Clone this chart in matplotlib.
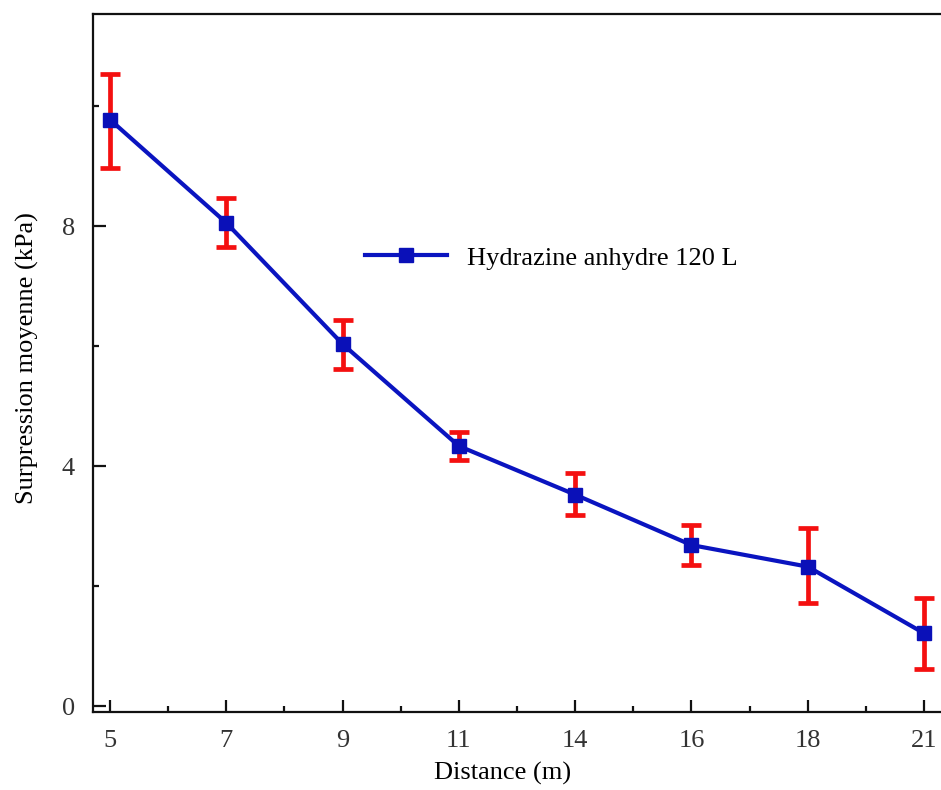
import matplotlib
matplotlib.use("Agg")
import matplotlib.pyplot as plt
from matplotlib.ticker import FixedLocator

distances = ["5", "7", "9", "11", "14", "16", "18", "21"]
pressure = [9.78, 8.06, 6.04, 4.34, 3.53, 2.69, 2.33, 1.22]
err_low = [0.80, 0.40, 0.41, 0.23, 0.34, 0.33, 0.60, 0.59]
err_high = [0.76, 0.42, 0.40, 0.24, 0.36, 0.34, 0.65, 0.59]
series_label = "Hydrazine anhydre 120 L"

plt.rcParams['font.family'] = ['Liberation Serif', 'DejaVu Serif']

fig = plt.figure(figsize=(9.41, 7.90), dpi=100)
ax = fig.add_axes([93/941, 78/790, 852/941, 698/790])

x = list(range(len(distances)))
ax.errorbar(x, pressure, yerr=[err_low, err_high], fmt='none', ecolor='#f41010',
            elinewidth=3.4, capsize=7, capthick=3.4, zorder=2)
ax.plot(x, pressure, color='#0a14c0', lw=3, marker='s', markersize=10,
        markerfacecolor='#0a10b8', markeredgecolor='#0a10b8', label=series_label, zorder=3)

ax.set_xlim(-0.146, 7.18)
ax.set_ylim(-0.092, 11.54)
ax.set_xticks(x)
ax.set_xticklabels(distances)
ax.xaxis.set_minor_locator(FixedLocator([i + 0.5 for i in x[:-1]]))
ax.yaxis.set_major_locator(FixedLocator([0, 4, 8]))
ax.yaxis.set_minor_locator(FixedLocator([2, 6, 10]))

for s in ['left', 'bottom', 'top', 'right']:
    ax.spines[s].set_linewidth(1.6)
    ax.spines[s].set_color('#111111')

ax.tick_params(which='major', direction='in', length=9, width=1.6, labelsize=19,
               labelcolor='#333333', color='#111111')
ax.tick_params(axis='x', which='major', pad=13)
ax.tick_params(axis='y', which='major', pad=13)
ax.tick_params(which='minor', direction='in', length=4, width=1.6, color='#111111')

ax.set_xlabel("Distance (m)", fontsize=19)
ax.set_ylabel("Surpression moyenne (kPa)", fontsize=19)
ax.xaxis.set_label_coords((503-93)/852, -0.071)
ax.yaxis.set_label_coords((39-93)/852, (712-358)/698)

ax.legend(loc='center left', bbox_to_anchor=((365-93)/852, (712-258)/698), frameon=False,
          fontsize=19, handlelength=3.1, handletextpad=0.75, borderpad=0, borderaxespad=0)

fig.savefig("out.png", dpi=100)
